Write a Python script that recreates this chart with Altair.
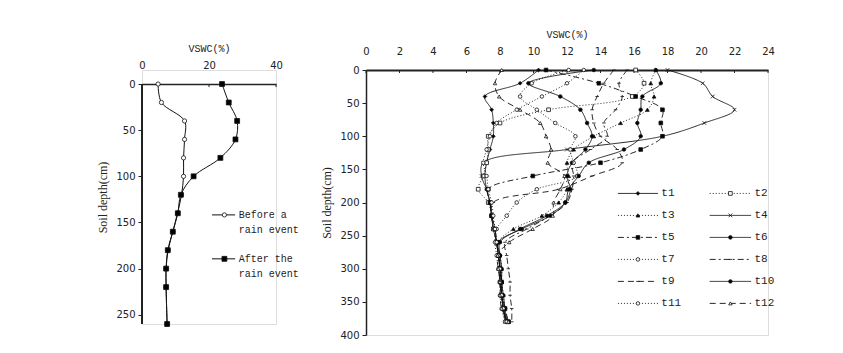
import altair as alt
import pandas as pd

# ---------------- data: left panel ----------------
depth_left = [0, 20, 40, 60, 80, 100, 120, 140, 160, 180, 200, 220, 260]
before_rain = [4.8, 5.8, 12.7, 12.7, 12.4, 12.4, 11.8, 10.6, 9.2, 7.8, 7.2, 7.2, 7.5]
after_rain = [23.9, 25.9, 28.4, 27.9, 23.4, 15.4, 11.6, 10.7, 9.2, 7.7, 7.2, 7.2, 7.5]
left_names = ["Before", "After"]
left_labels = [["Before a", "rain event"], ["After the", "rain event"]]
left_xticks = [0, 20, 40]
left_yticks = [0, 50, 100, 150, 200, 250]

# ---------------- data: right panel ----------------
depth_right = [0, 20, 40, 60, 80, 100, 120, 140, 160, 180, 200, 220, 240, 260, 280, 300, 320, 340, 360, 380]
t1 = [10.3, 9.2, 7.1, 7.5, 7.6, 7.6, 7.4, 7.2, 7.1, 7.2, 7.4, 7.5, 7.7, 7.8, 7.9, 8.0, 8.0, 8.1, 8.2, 8.4]
t2 = [16.1, 16.6, 15.9, 10.9, 8.0, 7.3, 7.3, 7.2, 7.0, 6.7, 7.3, 7.5, 7.6, 7.8, 7.9, 8.0, 8.1, 8.1, 8.2, 8.5]
t3 = [17.3, 17.0, 17.2, 16.8, 15.2, 13.6, 12.4, 12.0, 12.1, 12.0, 11.5, 10.5, 8.8, 7.9, 8.0, 8.1, 8.1, 8.2, 8.3, 8.5]
t4 = [18.0, 20.1, 20.7, 22.0, 20.2, 17.7, 12.0, 7.0, 6.9, 7.2, 7.4, 7.5, 7.6, 7.8, 7.9, 8.0, 8.0, 8.1, 8.2, 8.3]
t5 = [10.75, 13.9, 16.1, 17.7, 17.6, 17.7, 16.4, 14.0, 9.96, 7.3, 7.4, 7.5, 7.7, 7.8, 7.9, 8.0, 8.0, 8.1, 8.3, 8.5]
t6 = [13.6, 9.7, 11.6, 12.8, 13.2, 13.5, 13.1, 12.3, 12.0, 12.2, 11.9, 10.8, 9.2, 8.0, 8.0, 8.0, 8.1, 8.1, 8.2, 8.4]
t7 = [12.1, 9.9, 9.2, 10.2, 11.3, 12.5, 12.2, 12.4, 12.6, 10.2, 9.0, 8.4, 7.8, 7.7, 7.8, 7.9, 8.0, 8.0, 8.1, 8.3]
t8 = [15.6, 15.1, 15.3, 14.9, 14.2, 14.4, 13.4, 12.3, 12.4, 12.3, 12.0, 11.0, 9.6, 8.3, 8.4, 8.5, 8.6, 8.6, 8.7, 8.7]
t9 = [14.8, 14.2, 13.8, 13.5, 13.6, 14.0, 15.0, 15.3, 13.5, 11.5, 7.6, 7.5, 7.6, 7.8, 7.9, 8.0, 8.1, 8.1, 8.2, 8.4]
t10 = [17.3, 17.6, 16.5, 16.4, 16.2, 16.4, 15.4, 13.3, 12.7, 12.1, 11.9, 11.0, 9.3, 7.9, 8.0, 8.1, 8.1, 8.2, 8.3, 8.4]
t11 = [13.0, 12.0, 10.5, 9.0, 7.8, 7.4, 7.2, 7.0, 7.2, 7.3, 7.5, 7.6, 7.7, 7.8, 7.9, 8.0, 8.0, 8.1, 8.2, 8.4]
t12 = [8.1, 7.7, 7.95, 9.2, 10.4, 10.75, 11.05, 10.85, 11.85, 11.6, 11.2, 11.15, 9.95, 8.55, 7.86, 7.9, 8.0, 8.0, 8.1, 8.5]
series_names = ["t1", "t2", "t3", "t4", "t5", "t6", "t7", "t8", "t9", "t10", "t11", "t12"]
series_values = [t1, t2, t3, t4, t5, t6, t7, t8, t9, t10, t11, t12]
right_xticks = [0, 2, 4, 6, 8, 10, 12, 14, 16, 18, 20, 22, 24]
right_yticks = [0, 50, 100, 150, 200, 250, 300, 350, 400]

# ---------------- styles ----------------
FONT = "DejaVu Sans"
MONO = "Liberation Mono"
INK = "#222"
X_PATH = "M-1,-1L1,1M-1,1L1,-1"
DASH_PATH = "M-1,0L1,0"
dash_range = [[1, 0], [1, 2], [1, 2], [1, 0], [6, 3, 2, 3], [1, 0], [1, 2], [6, 3, 2, 3], [6, 4], [1, 0], [1, 2], [6, 4]]
shape_range = ["diamond", "square", "triangle-up", X_PATH, "square", "circle", "circle", DASH_PATH, DASH_PATH, "circle", "circle", "triangle-up"]
fill_range = ["black", "white", "black", "black", "black", "black", "white", "black", "black", "black", "white", "white"]
size_range = [14, 12, 12, 18, 95, 10, 12, 16, 16, 12, 12, 70]


def x_axis(values, domain_width, **extra):
    # ticks of the top axis point into the plot: drawn as a separate rule layer
    return alt.Axis(orient="top", values=values, title="VSWC(%)", grid=False, labelOverlap=False,
                    labelFlush=False, ticks=False, labelPadding=14, titlePadding=7,
                    domainWidth=domain_width, domainColor=INK, labelFont=FONT,
                    labelFontSize=10, labelColor=INK, titleFont=MONO, titleFontSize=10,
                    titleFontWeight="normal", titleColor=INK, **extra)


def y_axis(values, **extra):
    return alt.Axis(values=values, title="Soil depth(cm)", grid=False,
                    labelOverlap=False, labelFlush=False, tickSize=4, labelPadding=3,
                    titlePadding=6, domainWidth=1.5, domainColor=INK, tickColor=INK,
                    labelFont=FONT, labelFontSize=10, labelColor=INK,
                    titleFont="Liberation Serif", titleFontSize=12,
                    titleFontWeight="normal", titleColor=INK, **extra)


# ---------------- left panel ----------------
left_rows = []
for name, vals in zip(left_names, [before_rain, after_rain]):
    for d, v in zip(depth_left, vals):
        left_rows.append({"event": name, "depth": d, "vswc": v})
left_df = pd.DataFrame(left_rows)

leg_left = []
for i, name in enumerate(left_names):
    y0 = 141.8 + 47.6 * i
    leg_left.append({"event": name, "x1": 20.9, "x2": 27.8, "xm": 24.6, "y": y0,
                     "tx": 28.9, "l1": left_labels[i][0], "l2": left_labels[i][1], "y2": y0 + 16.5})
leg_left_df = pd.DataFrame(leg_left)
left_tick_df = pd.DataFrame({"tick": left_xticks})

# the left plot sits 14 px lower than the right one: extend its depth scale upward
# and pull its top axis down onto depth 0
top_ext = 15.2
lx = alt.X("vswc:Q", scale=alt.Scale(domain=[0, 40], nice=False),
           axis=x_axis(left_xticks, 1.5, offset=-14))
ly = alt.Y("depth:Q", scale=alt.Scale(domain=[-top_ext, 260], reverse=True, nice=False),
           axis=y_axis(left_yticks, domain=False))
lfill = alt.Fill("event:N", scale=alt.Scale(domain=left_names, range=["white", "black"]), legend=None)
lshape = alt.Shape("event:N", scale=alt.Scale(domain=left_names, range=["circle", "square"]), legend=None)
lsize = alt.Size("event:N", scale=alt.Scale(domain=left_names, range=[18, 24]), legend=None)

left_base = alt.Chart(left_df)
left_lines = left_base.mark_line(color="#111", strokeWidth=1, interpolate="catmull-rom").encode(
    x=lx, y=ly, detail="event:N", order="depth:Q")
left_axisline = left_base.mark_rule(color=INK, strokeWidth=1.5).encode(
    x=alt.value(0), y=alt.Y(datum=0), y2=alt.Y2(datum=260))
left_ticks = alt.Chart(left_tick_df).mark_rule(color=INK, strokeWidth=1).encode(
    x=alt.X("tick:Q"), y=alt.Y(datum=0), y2=alt.Y2(datum=3.3))
left_pts = left_base.mark_point(filled=True, stroke="#111", strokeWidth=0.8, opacity=1).encode(
    x=lx, y=ly, fill=lfill, shape=lshape, size=lsize)
ll_base = alt.Chart(leg_left_df)
ll_rule = ll_base.mark_rule(color="#111", strokeWidth=1).encode(
    x=alt.X("x1:Q"), x2="x2:Q", y=alt.Y("y:Q"))
ll_pts = ll_base.mark_point(filled=True, stroke="#111", strokeWidth=0.8, opacity=1).encode(
    x=alt.X("xm:Q"), y=alt.Y("y:Q"), fill=lfill, shape=lshape, size=lsize)
ll_t1 = ll_base.mark_text(align="left", baseline="middle", font=MONO, fontSize=10, color=INK).encode(
    x=alt.X("tx:Q"), y=alt.Y("y:Q"), text="l1:N")
ll_t2 = ll_base.mark_text(align="left", baseline="middle", font=MONO, fontSize=10, color=INK).encode(
    x=alt.X("tx:Q"), y=alt.Y("y2:Q"), text="l2:N")

left_chart = alt.layer(left_lines, left_axisline, left_ticks, left_pts, ll_rule, ll_pts,
                       ll_t1, ll_t2).properties(width=134, height=254)

# ---------------- right panel ----------------
right_rows = []
for name, vals in zip(series_names, series_values):
    for d, v in zip(depth_right, vals):
        right_rows.append({"series": name, "depth": d, "vswc": v})
right_df = pd.DataFrame(right_rows)

leg_rows = []
col_x1 = [15.04, 20.52]
col_x2 = [17.43, 22.99]
for i, name in enumerate(series_names):
    r, c = i // 2, i % 2
    leg_rows.append({"series": name, "x1": col_x1[c], "x2": col_x2[c],
                     "xm": (col_x1[c] + col_x2[c]) / 2, "tx": col_x2[c] + 0.2,
                     "y": 186.3 + 33.2 * r})
leg_right_df = pd.DataFrame(leg_rows)
right_tick_df = pd.DataFrame({"tick": right_xticks})

R_XSCALE = alt.Scale(domain=[0, 24], nice=False)
R_YSCALE = alt.Scale(domain=[0, 400], reverse=True, nice=False)
R_XAXIS = x_axis(right_xticks, 2)
R_YAXIS = y_axis(right_yticks)


def rxe(field):
    return alt.X(field, scale=R_XSCALE, axis=R_XAXIS)


def rye(field):
    return alt.Y(field, scale=R_YSCALE, axis=R_YAXIS)


rdash = alt.StrokeDash("series:N", scale=alt.Scale(domain=series_names, range=dash_range), legend=None)
rshape = alt.Shape("series:N", scale=alt.Scale(domain=series_names, range=shape_range), legend=None)
rfill = alt.Fill("series:N", scale=alt.Scale(domain=series_names, range=fill_range), legend=None)
rsize = alt.Size("series:N", scale=alt.Scale(domain=series_names, range=size_range), legend=None)

rbase = alt.Chart(right_df)
r_lines = rbase.mark_line(color="#111", strokeWidth=0.9, interpolate="catmull-rom").encode(
    x=rxe("vswc:Q"), y=rye("depth:Q"), strokeDash=rdash, order="depth:Q")
r_ticks = alt.Chart(right_tick_df).mark_rule(color=INK, strokeWidth=1).encode(
    x=rxe("tick:Q"), y=alt.Y(datum=0, scale=R_YSCALE, axis=R_YAXIS), y2=alt.Y2(datum=4.5))
r_pts = rbase.mark_point(filled=True, stroke="#111", strokeWidth=0.8, opacity=1).encode(
    x=rxe("vswc:Q"), y=rye("depth:Q"), shape=rshape, fill=rfill, size=rsize)
lr_base = alt.Chart(leg_right_df)
lr_rule = lr_base.mark_rule(color="#111", strokeWidth=0.9).encode(
    x=rxe("x1:Q"), x2="x2:Q", y=rye("y:Q"), strokeDash=rdash)
lr_pts = lr_base.mark_point(filled=True, stroke="#111", strokeWidth=0.8, opacity=1).encode(
    x=rxe("xm:Q"), y=rye("y:Q"), shape=rshape, fill=rfill, size=rsize)
lr_txt = lr_base.mark_text(align="left", baseline="middle", font=MONO, fontSize=11, color=INK).encode(
    x=rxe("tx:Q"), y=rye("y:Q"), text="series:N")

right_chart = alt.layer(r_lines, r_ticks, r_pts, lr_rule, lr_pts, lr_txt).properties(
    width=402, height=265)

chart = alt.hconcat(left_chart, right_chart, spacing=20).resolve_scale(
    shape="independent", fill="independent", size="independent", strokeDash="independent"
).properties(
    padding={"left": 96, "top": 28, "right": 5, "bottom": 5}
).configure_view(stroke=None).configure_axis(
    labelOverlap=False
).configure(background="white")

chart.save("out.html", embed_options={"renderer": "svg", "actions": False})
